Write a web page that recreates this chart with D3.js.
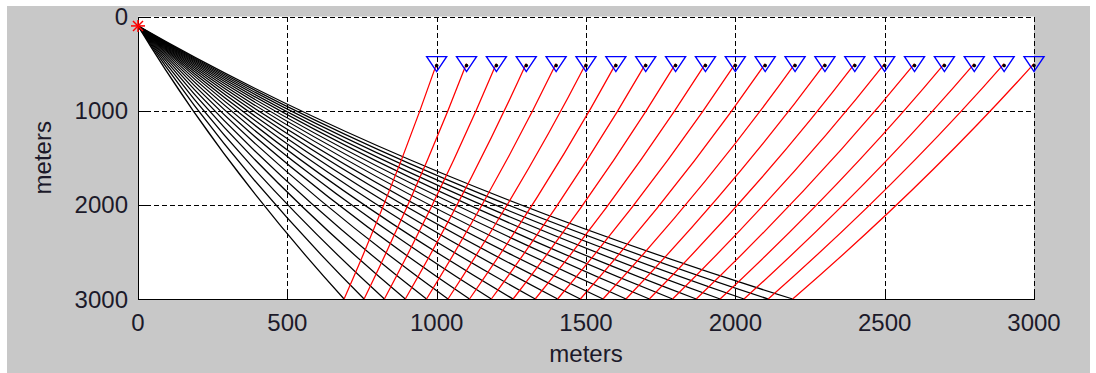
<!DOCTYPE html>
<html>
<head>
<meta charset="utf-8">
<script src="https://cdn.jsdelivr.net/npm/d3@7"></script>
<style>
  html, body { margin: 0; padding: 0; background: #ffffff; }
  svg { display: block; }
  text { font-family: "Liberation Sans", Arial, sans-serif; fill: #1c1a2a; }
</style>
</head>
<body>
<svg id="chart" width="1096" height="373"></svg>
<script>
// Axis ticks (meters)
const xTicks = [0, 500, 1000, 1500, 2000, 2500, 3000];
const yTicks = [0, 1000, 2000, 3000];

// Shot location: horizontal position and depth (m)
const sourceX = 0;
const sourceZ = 100;

// Receiver line at constant depth
const receiverX = [1000, 1100, 1200, 1300, 1400, 1500, 1600, 1700, 1800, 1900, 2000,
                   2100, 2200, 2300, 2400, 2500, 2600, 2700, 2800, 2900, 3000];
const receiverZ = 500;

// Reflection points on the reflector, one per receiver
const reflectX = [690, 757, 825, 895, 966, 1038, 1110, 1183, 1256, 1330, 1405,
                  1481, 1557, 1634, 1712, 1790, 1869, 1949, 2029, 2110, 2192];
const reflectorZ = 3000;

// Linear-gradient media: velocity extrapolates to zero at these depths, so every
// ray is a circular arc centred on that level (P leg down, S leg up).
const zeroDepthP = -6000;
const zeroDepthS = -9000;

const svg = d3.select("#chart");

// Figure background
svg.append("rect").attr("x", 7).attr("y", 6).attr("width", 1083).attr("height", 367)
  .attr("fill", "#c8c8c8");

const plot = { left: 138, right: 1034, top: 16.5, bottom: 299 };

const x = d3.scaleLinear().domain([0, 3000]).range([plot.left, plot.right]);
const y = d3.scaleLinear().domain([0, 3000]).range([plot.top, plot.bottom]);
const sx = (plot.right - plot.left) / 3000;
const sy = (plot.bottom - plot.top) / 3000;

// Circular ray between two points (meters), drawn as an SVG elliptical arc in pixels
function rayPath(ax, az, bx, bz, z0) {
  const cx = (bx * bx - ax * ax + (bz - z0) ** 2 - (az - z0) ** 2) / (2 * (bx - ax));
  const R = Math.hypot(ax - cx, az - z0);
  const a1 = Math.atan2(y(az) - y(z0), x(ax) - x(cx));
  const a2 = Math.atan2(y(bz) - y(z0), x(bx) - x(cx));
  let d = a2 - a1;
  while (d > Math.PI) d -= 2 * Math.PI;
  while (d <= -Math.PI) d += 2 * Math.PI;
  const sweep = d > 0 ? 1 : 0;
  return `M${x(ax)},${y(az)}A${R * sx},${R * sy} 0 0 ${sweep} ${x(bx)},${y(bz)}`;
}

// Plot area
svg.append("rect")
  .attr("x", plot.left).attr("y", plot.top)
  .attr("width", plot.right - plot.left).attr("height", plot.bottom - plot.top)
  .attr("fill", "#ffffff");

// Dashed grid
const grid = svg.append("g").attr("stroke", "#000").attr("stroke-width", 1)
  .attr("stroke-dasharray", "5,3").attr("shape-rendering", "crispEdges");
grid.selectAll("line.gx").data(xTicks.filter(d => d > 0)).join("line")
  .attr("x1", d => Math.round(x(d)) + 0.5).attr("x2", d => Math.round(x(d)) + 0.5)
  .attr("y1", plot.top).attr("y2", plot.bottom);
grid.selectAll("line.gy").data(yTicks.filter(d => d < 3000)).join("line")
  .attr("y1", d => Math.round(y(d)) + 0.5).attr("y2", d => Math.round(y(d)) + 0.5)
  .attr("x1", plot.left).attr("x2", plot.right);

// Down-going rays: source to reflection points
const rays = svg.append("g").attr("fill", "none");
rays.selectAll("path.down").data(reflectX).join("path")
  .attr("d", d => rayPath(sourceX, sourceZ, d, reflectorZ, zeroDepthP))
  .attr("stroke", "#000").attr("stroke-width", 1.25);

// Up-going rays: reflection points to receivers
rays.selectAll("path.up").data(d3.zip(reflectX, receiverX)).join("path")
  .attr("d", d => rayPath(d[0], reflectorZ, d[1], receiverZ, zeroDepthS))
  .attr("stroke", "#ff0000").attr("stroke-width", 1.25);

// Axes: solid left and bottom lines with inward ticks
const axes = svg.append("g").attr("stroke", "#000").attr("stroke-width", 1)
  .attr("shape-rendering", "crispEdges");
axes.append("line").attr("x1", plot.left + 0.5).attr("x2", plot.left + 0.5)
  .attr("y1", plot.top).attr("y2", plot.bottom + 0.5);
axes.append("line").attr("x1", plot.left).attr("x2", plot.right + 0.5)
  .attr("y1", plot.bottom + 0.5).attr("y2", plot.bottom + 0.5);
axes.selectAll("line.tx").data(xTicks).join("line")
  .attr("x1", d => Math.round(x(d)) + 0.5).attr("x2", d => Math.round(x(d)) + 0.5)
  .attr("y1", plot.bottom).attr("y2", plot.bottom - 9);
axes.selectAll("line.ty").data(yTicks).join("line")
  .attr("y1", d => Math.round(y(d)) + 0.5).attr("y2", d => Math.round(y(d)) + 0.5)
  .attr("x1", plot.left).attr("x2", plot.left + 9);

// Receivers: downward triangles
const rec = svg.append("g");
rec.selectAll("path").data(receiverX).join("path")
  .attr("transform", d => `translate(${x(d)},${y(receiverZ)})`)
  .attr("d", "M-10,-7L10,-7L0,8Z")
  .attr("fill", "none").attr("stroke", "#0000ff").attr("stroke-width", 1.4);
rec.selectAll("circle").data(receiverX).join("circle")
  .attr("cx", d => x(d)).attr("cy", y(receiverZ) + 2).attr("r", 1.8)
  .attr("fill", "#000");

// Source: red asterisk
const star = svg.append("g")
  .attr("transform", `translate(${x(sourceX)},${y(sourceZ)})`)
  .attr("stroke", "#ff0000").attr("stroke-width", 1.5);
star.append("line").attr("x1", -7).attr("x2", 7).attr("y1", 0).attr("y2", 0);
star.append("line").attr("x1", 0).attr("x2", 0).attr("y1", -6).attr("y2", 6);
star.append("line").attr("x1", -5).attr("x2", 5).attr("y1", -5).attr("y2", 5);
star.append("line").attr("x1", -5).attr("x2", 5).attr("y1", 5).attr("y2", -5);

// Tick labels
svg.selectAll("text.xl").data(xTicks).join("text")
  .attr("x", d => x(d)).attr("y", 331)
  .attr("text-anchor", "middle").attr("font-size", 24)
  .text(d => d);
svg.selectAll("text.yl").data(yTicks).join("text")
  .attr("x", 128).attr("y", d => y(d) + 8.5)
  .attr("text-anchor", "end").attr("font-size", 24)
  .text(d => d);

// Axis titles
svg.append("text").attr("x", (plot.left + plot.right) / 2).attr("y", 362)
  .attr("text-anchor", "middle").attr("font-size", 24).text("meters");
svg.append("text")
  .attr("transform", `translate(51,${(plot.top + plot.bottom) / 2}) rotate(-90)`)
  .attr("text-anchor", "middle").attr("font-size", 24).text("meters");
</script>
</body>
</html>
